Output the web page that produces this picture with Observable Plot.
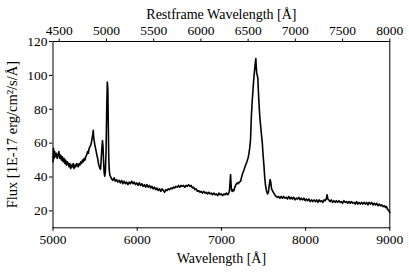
<!DOCTYPE html>
<html>
<head>
<meta charset="utf-8">
<script src="https://cdn.jsdelivr.net/npm/d3@7"></script>
<script src="https://cdn.jsdelivr.net/npm/@observablehq/plot@0.6"></script>
<style>
  html, body { margin: 0; padding: 0; background: #fff; }
  #chart svg { display: block; }
  #chart svg, #chart svg text { font-family: "Liberation Serif", "Times New Roman", "DejaVu Serif", serif !important; }
</style>
</head>
<body>
<div id="chart"></div>
<script>
// Observed wavelength (Å)
const wavelength = [
  5000,5006,5012,5020,5030,5040,5050,5060,5070,5080,5090,5100,5110,5120,5130,5140,5150,5160,5170,5180,5190,5200,5210,5220,5230,5240,5250,5260,5270,5280,5290,5300,5310,5320,5330,5340,5350,5360,5370,5380,5390,5400,5410,5420,5430,5440,
  5450,5458,5465,5472,5478,5484,5490,5497,5505,5513,5521,5530,5540,5550,5558,5564,5572,5580,5588,5594,5600,5607,5614,5622,5630,5638,5645,5651,5657,5662,5668,5676,5686,5695,
  5710,5725,5740,5755,5770,5785,5800,5815,5830,5845,5860,5875,5890,5905,5920,5935,5950,5965,5980,5995,6010,6025,6040,6055,6070,6085,6100,6115,6130,6145,6160,6175,6190,6205,6220,6235,6250,6265,6280,6295,6310,6325,6340,6355,6370,6385,6400,6415,6430,6445,6460,6475,6490,6505,6520,6535,6550,6565,6580,6595,6610,6625,6640,6655,6670,6685,6700,6715,6730,6745,6760,6775,6790,6805,6820,6835,6850,6865,6880,6895,6910,6925,6940,6955,6970,6985,7000,7015,7030,7045,7060,7075,7088,
  7096,7103,7109,7115,7122,7130,7140,7148,7160,7172,7188,7200,7212,7228,7240,7255,7267,7280,7295,7307,7318,7326,7336,7346,7356,7366,7376,7386,7396,7404,7409,7414,7420,7427,7433,7440,7448,7457,7468,7478,7486,7495,7504,7514,7524,7536,7548,7558,7568,7578,7586,7596,7606,7616,7628,7640,7652,7664,
  7680,7695,7710,7725,7740,7755,7770,7785,7800,7815,7830,7845,7860,7875,7890,7905,7920,7935,7950,7965,7980,7995,8010,8025,8040,8055,8070,8085,8100,8115,8130,8145,8160,8175,8190,8205,8220,8235,8248,8256,8264,8275,8290,8305,8320,8335,8350,8365,8380,8395,8410,8425,8440,8455,8470,8485,8500,8515,8530,8545,8560,8575,8590,8605,8620,8635,8650,8665,8680,8695,8710,8725,8740,8755,8770,8785,8800,8815,8830,8845,8860,8875,8890,8905,8920,8935,8950,8962,8972,8982,8990,9000
];
// Flux (1E-17 erg/cm^2/s/Å)
const flux = [
  49,57,51,55,52,54,51,53,55,51,53,50,52,49,51,48,50,47,49,48,46,48,45,47,46,48,45,47,46,48,47,46,48,47,49,48,50,49,51,50,52,53,55,54,57,58,
  59,61,63,65,67.5,63,61,59,57,55,53,51,48,46,45,44.5,50,57,61.5,58,50,43,40.5,43,55,80,96,92,70,52,44,41,40,39,
  38,39.5,37.5,38.5,37,38,36.5,38,36,37.5,36,37,35.5,37,36,37.5,36,37,35.5,36.5,35,36.5,35,36,34.5,35.5,34,35.5,34,35,33.5,34.5,33,34,32.5,33.5,32,33,31.5,33,32,31,32.5,32,33,32.5,33.5,33,34,33.5,34.5,34,35,34,35,34.5,35,34,35,34.5,35.5,34.5,35,33.5,34,32.5,33,31.5,32,31,31.5,30.5,31.5,30.5,31,30,31,30,30.5,29.5,30.5,29.5,30,29,30.5,29.5,30,29,30,29.5,30.5,29.5,30.5,
  32,37,41.5,35,32,31.5,32.5,31.8,34,35.5,36.5,36,37,37.5,40,42.5,44,46,48,49.6,51.5,53.5,57,62,76,85,92,99,104,108,110,105,101,100,98,90,82,75,69,64,60,53,47.6,40,35,31.8,30,31,35,38.5,37,33,32,31,30,29,28.5,28,
  28.5,27.5,28.5,27.5,28.5,27.5,28,27,28.5,27,28,27,28,26.5,27.5,27,28,26.5,27.5,26.5,27.5,26,27,26,27,25.5,26.5,25.5,26.5,25.5,26.5,25,26.5,25.5,26,25,26.5,26,27.5,29.5,27,26.5,25.5,26.5,25,26,25,26,25,26,25,25.5,24.5,26,25,25.5,24.5,25.5,24.5,25.5,24.5,25,24,25.5,24,25,24,25,24,25,24,25,23.5,25,24,25,23.5,24.5,23.5,24.5,23,24,23,23.5,22.5,23,22,22.5,21,20.5,20,19
];
const xTicks = [5000, 6000, 7000, 8000, 9000];
const restTicks = [4500, 5000, 5500, 6000, 6500, 7000, 7500, 8000];
const yTicks = [20, 40, 60, 80, 100, 120];
const restDomain = [4434, 8000];
const obsDomain = [5000, 9000];

const toObs = r => obsDomain[0] + (r - restDomain[0]) / (restDomain[1] - restDomain[0]) * (obsDomain[1] - obsDomain[0]);
const toRest = o => restDomain[0] + (o - obsDomain[0]) / (obsDomain[1] - obsDomain[0]) * (restDomain[1] - restDomain[0]);

const font = "Liberation Serif, Times New Roman, DejaVu Serif, serif";

const chart = Plot.plot({
  width: 409,
  height: 273,
  marginLeft: 52.5,
  marginRight: 19.7,
  marginTop: 41,
  marginBottom: 45.7,
  style: { fontFamily: font, fontSize: "13.5px", color: "#000", background: "#fff" },
  x: { domain: obsDomain, label: null },
  y: { domain: [10, 120], label: null },
  marks: [
    Plot.line(wavelength, { x: wavelength, y: (d, i) => flux[i], stroke: "#000", strokeWidth: 1.6, strokeLinejoin: "round" }),
    Plot.frame({ stroke: "#000", strokeWidth: 1 }),
    Plot.axisX(xTicks, { anchor: "bottom", tickSize: 3.5, tickPadding: 3, tickFormat: d => String(d), label: null, fontSize: 13.5, fontFamily: font }),
    Plot.axisX(restTicks.map(toObs), { anchor: "top", tickSize: 3.5, tickPadding: 3, tickFormat: d => String(Math.round(toRest(d))), label: null, fontSize: 13.5, fontFamily: font }),
    Plot.axisY(yTicks, { anchor: "left", tickSize: 3.5, tickPadding: 2, tickFormat: d => String(d), label: null, fontSize: 13.5, fontFamily: font }),
    Plot.text(["Wavelength [Å]"], { frameAnchor: "bottom", dy: 31, fontSize: 14, fontFamily: font, textAnchor: "middle", lineAnchor: "middle", fill: "#000" }),
    Plot.text(["Restframe Wavelength [Å]"], { frameAnchor: "top", dy: -27, fontSize: 14, fontFamily: font, textAnchor: "middle", lineAnchor: "middle", fill: "#000" }),
    Plot.text(["Flux [1E-17 erg/cm²/s/Å]"], { frameAnchor: "left", dx: -40.5, rotate: -90, fontSize: 14.5, fontFamily: font, textAnchor: "middle", lineAnchor: "middle", fill: "#000" })
  ]
});
document.getElementById("chart").appendChild(chart);
</script>
</body>
</html>
